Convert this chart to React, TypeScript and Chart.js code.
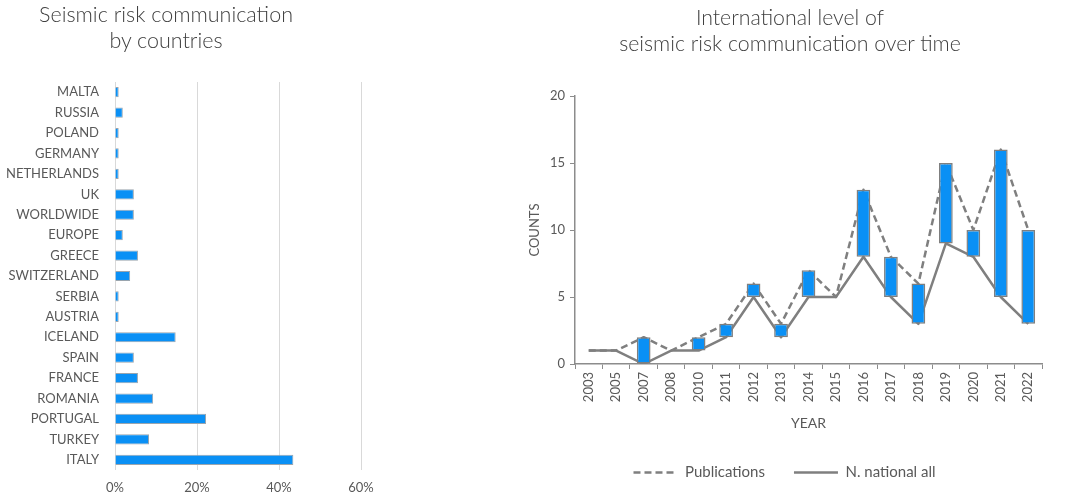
import { useEffect, useRef } from "react"
import { Chart, registerables } from "chart.js"

Chart.register(...registerables)

// left chart: share of studies per country (%)
const countries = [
  "MALTA", "RUSSIA", "POLAND", "GERMANY", "NETHERLANDS", "UK", "WORLDWIDE", "EUROPE",
  "GREECE", "SWITZERLAND", "SERBIA", "AUSTRIA", "ICELAND", "SPAIN", "FRANCE",
  "ROMANIA", "PORTUGAL", "TURKEY", "ITALY",
]
const countryShare = [
  0.9, 1.9, 0.9, 0.9, 0.9, 4.6, 4.6, 1.9, 5.6, 3.7, 0.9, 0.9, 14.8, 4.6, 5.6, 9.3, 22.2, 8.3, 43.5,
]
const shareTicks = [0, 20, 40, 60]

// right chart: counts per year
const years = [
  "2003", "2005", "2007", "2008", "2010", "2011", "2012", "2013", "2014",
  "2015", "2016", "2017", "2018", "2019", "2020", "2021", "2022",
]
const publications = [1, 1, 2, 1, 2, 3, 6, 3, 7, 5, 13, 8, 6, 15, 10, 16, 10]
const nationalAll = [1, 1, 0, 1, 1, 2, 5, 2, 5, 5, 8, 5, 3, 9, 8, 5, 3]

const FONT = "Lato, 'Open Sans', sans-serif"
const TEXT = "#595959"
const AXIS = "#8c8c8c"
const BLUE = "#0a90f5"
const LINE = "#7f7f7f"

function CountriesChart() {
  const ref = useRef<HTMLCanvasElement | null>(null)
  const chart = useRef<Chart | null>(null)

  useEffect(() => {
    if (!ref.current) return
    if (chart.current) chart.current.destroy()

    chart.current = new Chart(ref.current, {
      type: "bar",
      data: {
        labels: countries,
        datasets: [
          {
            data: countryShare,
            backgroundColor: BLUE,
            borderColor: "#9aa5ae",
            borderWidth: 1,
            barPercentage: 0.5,
            categoryPercentage: 1,
          },
        ],
      },
      options: {
        indexAxis: "y",
        animation: false,
        responsive: false,
        layout: { padding: { top: 82, right: 29, bottom: 0, left: 0 } },
        plugins: { legend: { display: false }, tooltip: { enabled: false } },
        scales: {
          x: {
            min: 0,
            max: 60,
            afterBuildTicks: (scale: any) => {
              scale.ticks = shareTicks.map((v) => ({ value: v }))
            },
            afterFit: (scale: any) => {
              scale.height = 25
            },
            ticks: {
              callback: (v: any) => v + "%",
              color: TEXT,
              font: { family: FONT, size: 13 },
              padding: 10,
            },
            grid: { color: "#d9d9d9", drawTicks: false },
            border: { display: false },
          },
          y: {
            afterFit: (scale: any) => {
              scale.width = 115
            },
            ticks: {
              color: TEXT,
              font: { family: FONT, size: 13 },
              padding: 8,
              autoSkip: false,
            },
            grid: { display: false },
            border: { display: false },
          },
        },
      },
    })

    return () => {
      if (chart.current) chart.current.destroy()
      chart.current = null
    }
  }, [])

  return <canvas ref={ref} width={390} height={495} style={{ position: "absolute", left: 0, top: 0 }} />
}

function TimelineChart() {
  const ref = useRef<HTMLCanvasElement | null>(null)
  const chart = useRef<Chart | null>(null)

  useEffect(() => {
    if (!ref.current) return
    if (chart.current) chart.current.destroy()

    // floating bars between the two series (none where they are equal)
    const ranges = publications.map((p, i) =>
      p === nationalAll[i] ? null : [Math.min(p, nationalAll[i]), Math.max(p, nationalAll[i])]
    )

    chart.current = new Chart(ref.current, {
      type: "bar",
      data: {
        labels: years,
        datasets: [
          {
            type: "bar",
            label: "range",
            data: ranges as any,
            backgroundColor: BLUE,
            borderColor: LINE,
            borderWidth: 1.5,
            borderSkipped: false,
            barPercentage: 0.5,
            categoryPercentage: 1,
            order: 0,
          },
          {
            type: "line",
            label: "Publications",
            data: publications,
            borderColor: LINE,
            borderWidth: 2.5,
            borderDash: [7, 4],
            borderJoinStyle: "round",
            pointRadius: 0,
            tension: 0,
            order: 1,
          },
          {
            type: "line",
            label: "N. national all",
            data: nationalAll,
            borderColor: LINE,
            borderWidth: 2.5,
            borderJoinStyle: "round",
            pointRadius: 0,
            tension: 0,
            order: 2,
          },
        ],
      },
      options: {
        animation: false,
        responsive: false,
        layout: { padding: { top: 96, right: 23, bottom: 5, left: 27 } },
        plugins: {
          tooltip: { enabled: false },
          legend: {
            position: "bottom",
            labels: {
              usePointStyle: true,
              pointStyle: "line",
              pointStyleWidth: 44,
              padding: 29,
              color: TEXT,
              font: { family: FONT, size: 15 },
              generateLabels: (c: any) => {
                const items = Chart.defaults.plugins.legend.labels.generateLabels(c)
                return items
                  .filter((it: any) => it.text !== "range")
                  .map((it: any) => {
                    const ds: any = c.data.datasets[it.datasetIndex]
                    return {
                      ...it,
                      strokeStyle: LINE,
                      fillStyle: LINE,
                      lineWidth: 2.5,
                      lineDash: ds.borderDash || [],
                      pointStyle: "line",
                    }
                  })
              },
            },
          },
        },
        scales: {
          x: {
            offset: true,
            afterFit: (scale: any) => {
              scale.height = 72
            },
            ticks: {
              minRotation: 90,
              maxRotation: 90,
              color: TEXT,
              font: { family: FONT, size: 13 },
              padding: 3,
            },
            grid: { offset: true, drawOnChartArea: false, tickLength: 5, color: AXIS },
            border: { color: AXIS, width: 1.5 },
            title: {
              display: true,
              text: "YEAR",
              color: TEXT,
              font: { family: FONT, size: 14 },
              padding: { top: 0, bottom: 4 },
            },
          },
          y: {
            min: 0,
            max: 20,
            afterFit: (scale: any) => {
              scale.width = 48
            },
            ticks: {
              stepSize: 5,
              color: TEXT,
              font: { family: FONT, size: 13 },
              padding: 5,
            },
            grid: { drawOnChartArea: false, tickLength: 5, color: AXIS },
            border: { color: AXIS, width: 1.5 },
            title: {
              display: true,
              text: "COUNTS",
              color: TEXT,
              font: { family: FONT, size: 13 },
              padding: 0,
            },
          },
        },
      },
    })

    return () => {
      if (chart.current) chart.current.destroy()
      chart.current = null
    }
  }, [])

  return <canvas ref={ref} width={565} height={495} style={{ position: "absolute", left: 500, top: 0 }} />
}

export default function App() {
  const titleStyle = {
    position: "absolute" as const,
    textAlign: "center" as const,
    fontFamily: FONT,
    fontWeight: 300,
    lineHeight: "26px",
    color: "#404040",
  }
  return (
    <div style={{ position: "fixed", left: 0, top: 0, width: 1065, height: 495, background: "#fff", overflow: "hidden" }}>
      <CountriesChart />
      <TimelineChart />
      <div style={{ ...titleStyle, fontSize: 21.5, left: 0, top: 1, width: 332 }}>
        Seismic risk communication
        <br />
        by countries
      </div>
      <div style={{ ...titleStyle, fontSize: 21.3, left: 560, top: 4, width: 460 }}>
        International level of
        <br />
        seismic risk communication over time
      </div>
    </div>
  )
}
